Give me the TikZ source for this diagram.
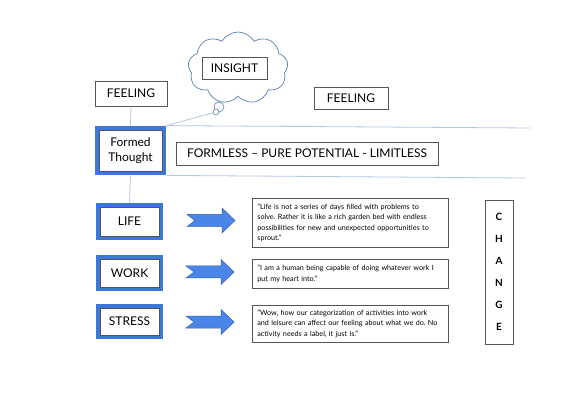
\documentclass[tikz,border=0pt]{standalone}
\usepackage{fontspec}
\setmainfont{Lato}
\usetikzlibrary{shapes.symbols}
\definecolor{frameblue}{HTML}{3C78D8}
\definecolor{arrowblue}{HTML}{4A86E8}
\definecolor{arrowedge}{HTML}{2F5FB0}
\definecolor{linkblue}{HTML}{B4C8E0}
\definecolor{cloudedge}{HTML}{5B80B4}
\definecolor{boxedge}{HTML}{555555}
\frenchspacing
\begin{document}
\begin{tikzpicture}[x=1pt,y=-1pt,
  plainbox/.style={draw=boxedge, line width=0.8pt, fill=white, inner sep=0pt},
  bluebox/.style={plainbox, preaction={draw=frameblue, line width=8pt},
    minimum width=59, font=\fontsize{12}{15.5}\selectfont, align=center},
  labelbox/.style={plainbox, font=\fontsize{12}{14}\selectfont},
  quotebox/.style={plainbox, inner xsep=5pt, text width=186, align=left,
    font=\fontsize{7.2}{10.5}\selectfont, anchor=north west},
  link/.style={draw=linkblue, line width=0.8pt},
  bubble/.style={circle, draw=cloudedge, line width=0.6pt, fill=white, inner sep=0pt},
  bluearrow/.pic={\draw[fill=arrowblue, draw=arrowedge, line width=0.5pt]
    (-24,-6) -- (11,-6) -- (11,-12.5) -- (24,0) -- (11,12.5) -- (11,6) -- (-24,6) -- (-16,0) -- cycle;}
]
\useasboundingbox[fill=white] (0,0) rectangle (584,414);

% top part
\node[labelbox, minimum width=72, minimum height=25] (feelL) at (131,93.5) {FEELING};
\node[cloud, cloud puffs=9, cloud puff arc=120, aspect=1.4, draw=cloudedge, line width=0.7pt,
  fill=white, minimum width=100, minimum height=72] (cloud) at (238,68) {};
\node[labelbox, minimum width=65, minimum height=22] (insight) at (234.5,68) {INSIGHT};
\node[bubble, minimum size=10] (b1) at (219,107) {};
\node[bubble, minimum size=6] (b2) at (216,112) {};
\node[labelbox, minimum width=74, minimum height=22] (feelR) at (351,98) {FEELING};

\node[bluebox, minimum width=63, minimum height=41] (formed) at (130.5,150.5) {Formed\\Thought};
\node[labelbox, minimum width=262, minimum height=23] (formless) at (307,153.5)
  {FORMLESS – PURE POTENTIAL - LIMITLESS};

\coordinate (topend) at (530,128);
\coordinate (botend) at (525,178);
\draw[link] ([shift={(4pt,4pt)}]formed.north east) -- (topend);
\draw[link] ([shift={(4pt,-4pt)}]formed.south east) -- (botend);
\draw[link] (feelL.south) -- ([yshift=4pt]formed.north);
\draw[link] (b2) -- ([shift={(4pt,4pt)}]formed.north east);

% left column
\node[bluebox, minimum height=29] (life) at (129.5,221.5) {LIFE};
\node[bluebox, minimum height=28] (work) at (129.5,273) {WORK};
\node[bluebox, minimum height=27] (stress) at (129.5,321.5) {STRESS};
\draw[link] ([yshift=-4pt]formed.south) -- ([yshift=4pt]life.north);

% arrows
\pic at (211,220.5) {bluearrow};
\pic at (210,272) {bluearrow};
\pic at (210,322) {bluearrow};

% quotes
\node[quotebox, minimum height=49] (q1) at (252,198)
  {"Life is not a series of days filled with problems to\\
   solve. Rather it is like a rich garden bed with endless\\
   possibilities for new and unexpected opportunities to\\
   sprout."};
\node[quotebox, minimum height=29] (q2) at (252,259)
  {"I am a human being capable of doing whatever work I\\
   put my heart into."};
\node[quotebox, minimum height=37] (q3) at (252,305)
  {"Wow, how our categorization of activities into work\\
   and leisure can affect our feeling about what we do. No\\
   activity needs a label, it just is."};

% change
\node[plainbox, minimum width=28, minimum height=144, align=center,
  font=\fontsize{10}{22}\selectfont\bfseries] (change) at (499,272)
  {C\\H\\A\\N\\G\\E};
\end{tikzpicture}
\end{document}
